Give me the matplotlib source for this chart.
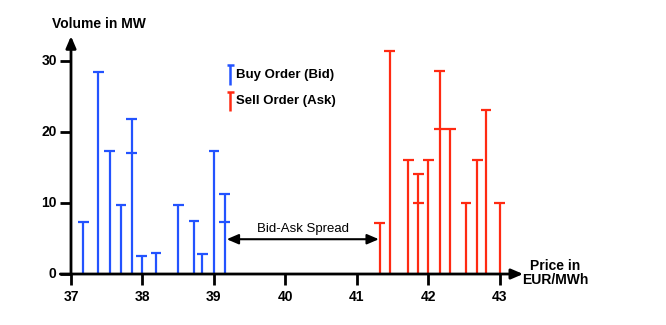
import numpy as np
import matplotlib
matplotlib.use("Agg")
import matplotlib.pyplot as plt

# order book (price in EUR/MWh, volume in MW)
bid_prices = [37.17, 37.38, 37.54, 37.70, 37.85, 37.85, 37.99, 38.19,
              38.50, 38.72, 38.84, 39.00, 39.15, 39.15]
bid_volumes = [7.3, 28.4, 17.3, 9.7, 21.8, 17.1, 2.5, 2.9,
               9.7, 7.5, 2.8, 17.3, 11.2, 7.3]

ask_prices = [41.32, 41.46, 41.72, 41.86, 41.86, 42.00, 42.16, 42.16,
              42.31, 42.53, 42.69, 42.81, 43.00]
ask_volumes = [7.2, 31.4, 16.1, 14.1, 10.0, 16.1, 28.6, 20.4,
               20.4, 10.0, 16.1, 23.1, 10.0]

x_ticks = [37, 38, 39, 40, 41, 42, 43]
y_ticks = [0, 10, 20, 30]

BLUE = "#2353ff"
RED = "#ff2a12"
FONT = ["Liberation Sans", "DejaVu Sans"]


def draw_orders(ax, prices, volumes, color):
    prices = np.array(prices)
    volumes = np.array(volumes)
    for p in np.unique(prices):
        v = volumes[prices == p]
        ax.vlines(p, 0, v.max(), color=color, lw=1.6, zorder=3)
        ax.hlines(v, p - 0.075, p + 0.075, color=color, lw=1.6, zorder=3)


fig = plt.figure(figsize=(6.66, 3.25), dpi=100)
ax = fig.add_axes([0, 0, 1, 1])
ax.set_xlim(36.006, 45.33)
ax.set_ylim(-7.18, 38.59)
ax.axis("off")

draw_orders(ax, bid_prices, bid_volumes, BLUE)
draw_orders(ax, ask_prices, ask_volumes, RED)

# axes with arrow heads
arrow = dict(arrowstyle="-|>,head_length=0.7,head_width=0.3", color="black",
             lw=2, shrinkA=0, shrinkB=0)
ax.annotate("", xy=(43.33, 0), xytext=(36.85, 0), arrowprops=arrow, zorder=4)
ax.annotate("", xy=(37, 33.5), xytext=(37, 0), arrowprops=arrow, zorder=4)

for t in x_ticks:
    ax.plot([t, t], [0, -1.5], color="black", lw=2, solid_capstyle="butt")
    ax.text(t, -2.2, str(t), ha="center", va="top", fontsize=10,
            fontweight="bold", family=FONT)
for t in y_ticks:
    ax.plot([36.85, 37], [t, t], color="black", lw=2, solid_capstyle="butt")
    ax.text(36.80, t, str(t), ha="right", va="center", fontsize=10,
            fontweight="bold", family=FONT)

ax.text(36.73, 35.2, "Volume in MW", ha="left", va="center", fontsize=10,
        fontweight="bold", family=FONT)
ax.text(43.78, 0.1, "Price in\nEUR/MWh", ha="center", va="center",
        fontsize=10, fontweight="bold", family=FONT, linespacing=1.0)

# legend glyphs
for (color, top, bottom, ty, label) in [
        (BLUE, 29.4, 26.6, 28.0, "Buy Order (Bid)"),
        (RED, 25.6, 22.9, 24.3, "Sell Order (Ask)")]:
    ax.vlines(39.23, bottom, top, color=color, lw=1.8)
    ax.hlines(top, 39.18, 39.28, color=color, lw=1.8)
    ax.text(39.31, ty, label, ha="left", va="center", fontsize=9.5,
            fontweight="bold", family=FONT)

# bid-ask spread
left = max(bid_prices) + 0.03
right = min(ask_prices) - 0.01
ax.annotate("", xy=(left, 4.9), xytext=(right, 4.9),
            arrowprops=dict(arrowstyle="<|-|>,head_length=0.7,head_width=0.3",
                            color="black", lw=1.5, shrinkA=0, shrinkB=0))
ax.text((left + right) / 2, 6.3, "Bid-Ask Spread", ha="center", va="center",
        fontsize=9.5, family=FONT)

fig.savefig("out.png", dpi=100)
